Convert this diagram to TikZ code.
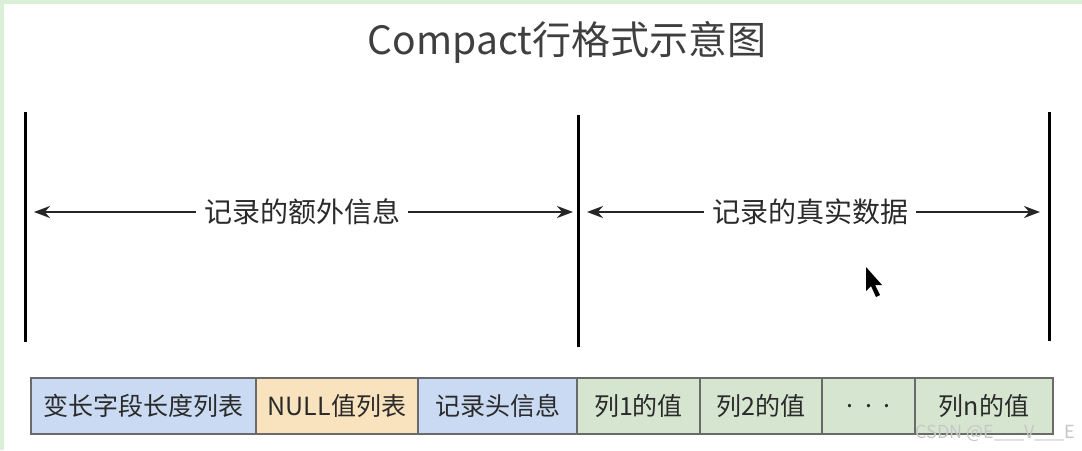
\documentclass[tikz,border=0pt]{standalone}
\usepackage{fontspec}
\newfontfamily\cjk{Noto Sans CJK SC}
\usetikzlibrary{arrows.meta}
\definecolor{txt}{HTML}{2A2A2A}
\definecolor{bblue}{HTML}{C9DAF2}
\definecolor{borange}{HTML}{F8E3BE}
\definecolor{bgreen}{HTML}{D6E5D0}
\definecolor{bord}{HTML}{6A6A6A}
\definecolor{frame}{HTML}{D9EFD6}
\tikzset{
  vline/.style={line width=3pt, black},
  arr/.style={line width=2.2pt, black!85, -{Stealth[length=16pt,width=12pt]}},
  lbl/.style={font=\cjk\fontsize{28}{32}\selectfont, text=txt, inner xsep=8pt, inner ysep=0pt},
  cell/.style={draw=bord, line width=1.2pt, minimum height=56pt, inner sep=0pt, font=\cjk\fontsize{25}{28}\selectfont, text=txt},
}
\begin{document}
\begin{tikzpicture}[x=1pt,y=-1pt]
\useasboundingbox (0,0) rectangle (1082,450);
\fill[white] (0,0) rectangle (1082,450);
\fill[frame] (0,0) rectangle (1082,4);
\fill[frame] (0,0) rectangle (4,450);
% title
\node[font=\cjk\fontsize{39}{43}\selectfont, text=txt!90] (title) at (567,42) {Compact行格式示意图};
% vertical separators
\coordinate (v1t) at (25,112); \coordinate (v1b) at (25,342);
\coordinate (v2t) at (578,115); \coordinate (v2b) at (578,347);
\coordinate (v3t) at (1049,112); \coordinate (v3b) at (1049,341);
\draw[vline] (v1t) -- (v1b);
\draw[vline] (v2t) -- (v2b);
\draw[vline] (v3t) -- (v3b);
% arrow labels
\node[lbl] (l1) at (302,212) {记录的额外信息};
\node[lbl] (l2) at (810,212) {记录的真实数据};
\coordinate (a1) at (34,212);
\coordinate (a2) at (573,212);
\coordinate (a3) at (587,212);
\coordinate (a4) at (1040,212);
\draw[arr] (l1.west) -- (a1);
\draw[arr] (l1.east) -- (a2);
\draw[arr] (l2.west) -- (a3);
\draw[arr] (l2.east) -- (a4);
% cells
\node[cell, fill=bblue, minimum width=225pt] (c1) at (143.5,406) {变长字段长度列表};
\node[cell, fill=borange, minimum width=162pt] (c2) at (337,406) {NULL值列表};
\node[cell, fill=bblue, minimum width=159pt] (c3) at (497.5,406) {记录头信息};
\node[cell, fill=bgreen, minimum width=123pt] (c4) at (638.5,406) {列1的值};
\node[cell, fill=bgreen, minimum width=122pt] (c5) at (761,406) {列2的值};
\node[cell, fill=bgreen, minimum width=93pt] (c6) at (868.5,406) {.\ \ .\ \ .};
\node[cell, fill=bgreen, minimum width=138pt] (c7) at (984,406) {列n的值};
% cursor
\fill[black] (866,267) -- (866,291) -- (871,286) -- (876,297) -- (880,295) -- (875,285) -- (882,285) -- cycle;
% watermark
\node[font=\cjk\fontsize{18}{20}\selectfont, text=black!22, anchor=east] (wm) at (1079,433) {CSDN @E\_\_\_V\_\_\_E};
\end{tikzpicture}
\end{document}
